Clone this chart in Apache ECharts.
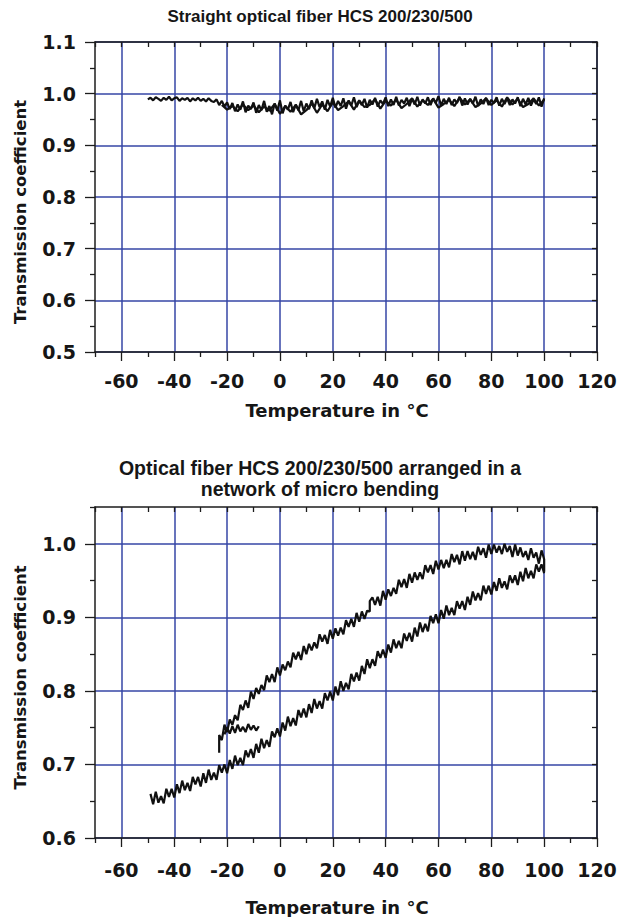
<!DOCTYPE html>
<html>
<head>
<meta charset="utf-8">
<script src="https://cdn.jsdelivr.net/npm/echarts@6/dist/echarts.min.js"></script>
<style>
html,body{margin:0;padding:0;background:#fff;}
#c{width:617px;height:917px;}
</style>
</head>
<body>
<div id="c"></div>
<script>
// ---------- axis tick values ----------
const xMajor = [-60,-40,-20,0,20,40,60,80,100,120];
const xMinor = [-70,-50,-30,-10,10,30,50,70,90,110];
const xAll = [-70,-60,-50,-40,-30,-20,-10,0,10,20,30,40,50,60,70,80,90,100,110,120];
const y1Major = [0.5,0.6,0.7,0.8,0.9,1.0,1.1];
const y1Minor = [0.55,0.65,0.75,0.85,0.95,1.05];
const y2Major = [0.6,0.7,0.8,0.9,1.0];
const y2Minor = [0.65,0.75,0.85,0.95,1.05];

// ---------- chart 1: straight fiber ----------
const topHeatT = [-50,-49,-48,-47,-46,-45,-44,-43,-42,-41,-40,-39,-38,-37,-36,-35,-34,-33,-32,-31,-30,-29,-28,-27,-26,
  -25,-24,-23,-22,-21,-20,
  -19,-18,-17,-16,-15,-14,-13,-12,-11,-10,-9,-8,-7,-6,-5,-4,-3,-2,-1,0,1,2,3,4,5,6,7,8,9,10,
  11,12,13,14,15,16,17,18,19,20,21,22,23,24,25,26,27,28,29,30,
  31,32,33,34,35,36,37,38,39,40,41,42,43,44,45,46,47,48,49,50,
  51,52,53,54,55,56,57,58,59,60,61,62,63,64,65,66,67,68,69,70,
  71,72,73,74,75,76,77,78,79,80,81,82,83,84,85,86,87,88,89,90,
  91,92,93,94,95,96,97,98,99,100];
const topHeatV = [0.989,0.992,0.987,0.993,0.990,0.986,0.992,0.988,0.994,0.987,0.991,0.993,0.986,0.991,0.988,0.992,0.985,0.991,0.987,0.992,0.986,0.990,0.985,0.991,0.986,
  0.984,0.989,0.978,0.986,0.975,0.983,
  0.970,0.982,0.966,0.979,0.969,0.985,0.964,0.977,0.970,0.983,0.963,0.978,0.968,0.986,0.965,0.976,0.960,0.981,0.967,0.987,0.962,0.977,0.969,0.984,0.964,0.979,0.968,0.986,0.966,0.981,
  0.970,0.987,0.972,0.990,0.974,0.985,0.969,0.988,0.975,0.992,0.973,0.986,0.976,0.991,0.971,0.987,0.977,0.993,0.974,0.986,
  0.978,0.990,0.973,0.988,0.979,0.992,0.975,0.987,0.980,0.993,0.976,0.989,0.978,0.994,0.977,0.988,0.981,0.992,0.976,0.990,
  0.979,0.994,0.977,0.989,0.981,0.993,0.978,0.991,0.982,0.995,0.977,0.990,0.980,0.992,0.978,0.989,0.982,0.994,0.977,0.991,
  0.979,0.990,0.981,0.994,0.976,0.989,0.980,0.992,0.978,0.988,0.982,0.993,0.977,0.990,0.980,0.991,0.978,0.989,0.981,0.993,
  0.976,0.990,0.979,0.992,0.977,0.989,0.980,0.993,0.975,0.991];
const topCoolT = [100,98,96,94,92,90,88,86,84,82,80,78,76,74,72,70,68,66,64,62,60,58,56,54,52,50,48,46,44,42,40,38,36,34,32,30,28,26,24,22,
  20,18,16,14,12,10,8,6,4,2,0,-2,-4,-6,-8,-10,-12,-14,-16,-18,-20,-22];
const topCoolV = [0.988,0.977,0.991,0.980,0.974,0.990,0.979,0.993,0.975,0.987,0.978,0.991,0.981,0.974,0.989,0.979,0.992,0.976,0.988,0.980,0.973,0.990,0.978,0.987,0.975,0.991,0.980,0.972,0.988,0.977,0.986,0.971,0.989,0.978,0.974,0.987,0.969,0.985,0.976,0.968,
  0.983,0.966,0.979,0.963,0.981,0.968,0.960,0.978,0.965,0.976,0.961,0.980,0.967,0.975,0.964,0.977,0.968,0.979,0.966,0.976,0.969,0.978];

// ---------- chart 2: micro bending network ----------
const lowT = [-49,-48,-47,-46,-45,-44,-43,-42,-41,-40,-39,-38,-37,-36,-35,-34,-33,-32,-31,-30,
  -29,-28,-27,-26,-25,-24,-23,-22,-21,-20,-19,-18,-17,-16,-15,-14,-13,-12,-11,-10,
  -9,-8,-7,-6,-5,-4,-3,-2,-1,0,1,2,3,4,5,6,7,8,9,10,
  11,12,13,14,15,16,17,18,19,20,21,22,23,24,25,26,27,28,29,30,
  31,32,33,34,35,36,37,38,39,40,41,42,43,44,45,46,47,48,49,50,
  51,52,53,54,55,56,57,58,59,60,61,62,63,64,65,66,67,68,69,70,
  71,72,73,74,75,76,77,78,79,80,81,82,83,84,85,86,87,88,89,90,
  91,92,93,94,95,96,97,98,99,100];
const lowV = [0.660,0.646,0.663,0.648,0.657,0.647,0.667,0.656,0.667,0.655,
  0.673,0.661,0.678,0.665,0.675,0.664,0.683,0.673,0.683,0.670,
  0.688,0.675,0.693,0.679,0.689,0.679,0.699,0.689,0.700,0.688,
  0.706,0.694,0.712,0.699,0.709,0.699,0.719,0.710,0.721,0.709,
  0.728,0.716,0.735,0.722,0.733,0.724,0.745,0.737,0.749,0.738,
  0.757,0.746,0.765,0.752,0.763,0.753,0.774,0.764,0.776,0.764,
  0.782,0.770,0.789,0.776,0.786,0.776,0.797,0.787,0.799,0.787,
  0.806,0.794,0.813,0.800,0.811,0.802,0.823,0.813,0.825,0.814,
  0.834,0.823,0.843,0.831,0.843,0.834,0.854,0.845,0.856,0.845,
  0.863,0.852,0.870,0.858,0.868,0.858,0.878,0.868,0.879,0.867,
  0.886,0.874,0.893,0.880,0.891,0.881,0.902,0.892,0.904,0.892,
  0.910,0.898,0.916,0.903,0.913,0.903,0.922,0.912,0.922,0.910,
  0.928,0.917,0.935,0.923,0.933,0.923,0.943,0.932,0.943,0.931,
  0.948,0.936,0.953,0.940,0.949,0.938,0.957,0.947,0.957,0.944,
  0.962,0.949,0.967,0.953,0.963,0.953,0.972,0.962,0.972,0.960];
const upT = [100,100,99,98,97,96,95,94,93,92,91,90,89,88,87,86,85,84,83,82,81,
  80,79,78,77,76,75,74,73,72,71,70,69,68,67,66,65,64,63,62,61,
  60,59,58,57,56,55,54,53,52,51,50,49,48,47,46,45,44,43,42,41,
  40,39,38,37,36,35,34,34,33,32,31,30,29,28,27,26,25,24,23,22,21,
  20,19,18,17,16,15,14,13,12,11,10,9,8,7,6,5,4,3,2,1,
  0,-1,-2,-3,-4,-5,-6,-7,-8,-9,-10,-11,-12,-13,-14,-15,-16,-17,-18,-19,
  -20,-21,-22,-23,-23];
const upV = [0.962,0.979,0.991,0.973,0.988,0.981,0.994,0.978,0.990,0.982,0.995,
  0.984,0.999,0.982,0.997,0.989,1.000,0.986,0.997,0.988,0.999,
  0.986,0.999,0.981,0.994,0.985,0.996,0.978,0.989,0.979,0.990,
  0.977,0.990,0.972,0.985,0.975,0.986,0.968,0.978,0.967,0.978,
  0.965,0.977,0.959,0.971,0.961,0.971,0.952,0.961,0.951,0.961,
  0.947,0.959,0.940,0.952,0.941,0.951,0.932,0.940,0.929,0.938,
  0.924,0.936,0.916,0.928,0.917,0.927,0.922,0.908,0.909,0.898,0.908,
  0.894,0.906,0.887,0.898,0.887,0.896,0.877,0.886,0.875,0.885,
  0.871,0.883,0.864,0.876,0.867,0.877,0.858,0.866,0.855,0.864,
  0.850,0.861,0.842,0.853,0.843,0.852,0.832,0.840,0.828,0.836,
  0.821,0.832,0.812,0.823,0.812,0.821,0.801,0.808,0.796,0.804,
  0.789,0.799,0.777,0.787,0.774,0.781,0.760,0.767,0.754,0.761,
  0.744,0.754,0.733,0.740,0.716];
const hookT = [-21,-20,-19,-18,-17,-16,-15,-14,-13,-12,-11,-10,-9,-8];
const hookV = [0.741,0.750,0.742,0.752,0.743,0.754,0.745,0.751,0.744,0.755,0.747,0.753,0.746,0.752];

// ---------- text ----------
const title1 = 'Straight optical fiber HCS 200/230/500';
const title2 = 'Optical fiber HCS 200/230/500 arranged in a\nnetwork of micro bending';
const xName = 'Temperature in \u00B0C';
const yName = 'Transmission coefficient';

// ---------- styles ----------
const AX = '#1c1c1c';
const GRIDC = '#3646a6';
const TXT = '#161616';
const LBL_FONT = 'DejaVu Sans';
const zip = (a, b) => a.map((v, i) => [v, b[i]]);

function xAxes(gi, labelMargin, nameGap) {
  return [
    { gridIndex: gi, type: 'value', position: 'bottom', min: -70, max: 120,
      name: xName, nameLocation: 'middle', nameGap: nameGap,
      nameTextStyle: { fontFamily: LBL_FONT, fontWeight: 'bold', fontSize: 18, color: TXT, padding: [0, 18, 0, 0] },
      axisLine: { show: true, onZero: false, lineStyle: { color: AX, width: 1.5 } },
      axisTick: { show: true, inside: false, length: 9, customValues: xMajor, lineStyle: { color: AX, width: 1.3 } },
      axisLabel: { show: true, customValues: xMajor, margin: labelMargin, fontFamily: LBL_FONT, fontWeight: 'bold', fontSize: 19, color: TXT },
      splitLine: { show: true, lineStyle: { color: GRIDC, width: 1.5 } } },
    { gridIndex: gi, type: 'value', position: 'bottom', min: -70, max: 120,
      axisLine: { show: false, onZero: false }, axisLabel: { show: false }, splitLine: { show: false },
      axisTick: { show: true, inside: false, length: 5, customValues: xMinor, lineStyle: { color: AX, width: 1.3 } } },
    { gridIndex: gi, type: 'value', position: 'top', min: -70, max: 120,
      axisLine: { show: true, onZero: false, lineStyle: { color: AX, width: 1.5 } }, axisLabel: { show: false }, splitLine: { show: false },
      axisTick: { show: true, inside: true, length: 5, customValues: xAll, lineStyle: { color: AX, width: 1.3 } } }
  ];
}
function yAxes(gi, mn, mx, major, minor, namePad) {
  const all = major.concat(minor).sort((a, b) => a - b);
  return [
    { gridIndex: gi, type: 'value', position: 'left', min: mn, max: mx, interval: 0.1,
      name: yName, nameLocation: 'middle', nameGap: 66, nameRotate: 90,
      nameTextStyle: { fontFamily: LBL_FONT, fontWeight: 'bold', fontSize: 16.5, color: TXT, padding: [0, namePad, 0, 0] },
      axisLine: { show: true, onZero: false, lineStyle: { color: AX, width: 1.5 } },
      axisTick: { show: true, inside: false, length: 10, customValues: major, lineStyle: { color: AX, width: 1.3 } },
      axisLabel: { show: true, customValues: major, margin: 19, fontFamily: LBL_FONT, fontWeight: 'bold', fontSize: 19, color: TXT,
        formatter: v => v.toFixed(1) },
      splitLine: { show: true, lineStyle: { color: GRIDC, width: 1.5 } } },
    { gridIndex: gi, type: 'value', position: 'left', min: mn, max: mx, interval: 0.1,
      axisLine: { show: false, onZero: false }, axisLabel: { show: false }, splitLine: { show: false },
      axisTick: { show: true, inside: false, length: 5, customValues: minor, lineStyle: { color: AX, width: 1.3 } } },
    { gridIndex: gi, type: 'value', position: 'right', min: mn, max: mx, interval: 0.1,
      axisLine: { show: true, onZero: false, lineStyle: { color: AX, width: 1.5 } }, axisLabel: { show: false }, splitLine: { show: false },
      axisTick: { show: true, inside: true, length: 5, customValues: all, lineStyle: { color: AX, width: 1.3 } } }
  ];
}
function line(data, xi, yi) {
  return { type: 'line', data: data, xAxisIndex: xi, yAxisIndex: yi, showSymbol: false, symbol: 'none',
    lineStyle: { color: '#111', width: 2.2 }, itemStyle: { color: '#111' }, animation: false, z: 5 };
}

const chart = echarts.init(document.getElementById('c'), null, { renderer: 'svg' });
chart.setOption({
  animation: false,
  backgroundColor: '#fff',
  graphic: [
    { type: 'text', x: 320, y: 16, style: { text: title1, font: 'bold 17px "Liberation Sans"', fill: TXT, textAlign: 'center', textVerticalAlign: 'middle' } },
    { type: 'text', x: 320, y: 478, style: { text: title2, font: 'bold 19.5px "Liberation Sans"', fill: TXT, textAlign: 'center', textVerticalAlign: 'middle', lineHeight: 21 } }
  ],
  grid: [
    { left: 95, top: 42, width: 502, height: 310, containLabel: false, outerBoundsMode: 'none' },
    { left: 95, top: 507, width: 502, height: 331, containLabel: false, outerBoundsMode: 'none' }
  ],
  xAxis: xAxes(0, 19, 49).concat(xAxes(1, 22, 60)),
  yAxis: yAxes(0, 0.5, 1.1, y1Major, y1Minor, 30).concat(yAxes(1, 0.6, 1.05, y2Major, y2Minor, 10)),
  series: [
    line(zip(topHeatT, topHeatV), 0, 0),
    line(zip(topCoolT, topCoolV), 0, 0),
    line(zip(lowT, lowV), 3, 3),
    line(zip(upT, upV), 3, 3),
    line(zip(hookT, hookV), 3, 3)
  ]
});
</script>
</body>
</html>
